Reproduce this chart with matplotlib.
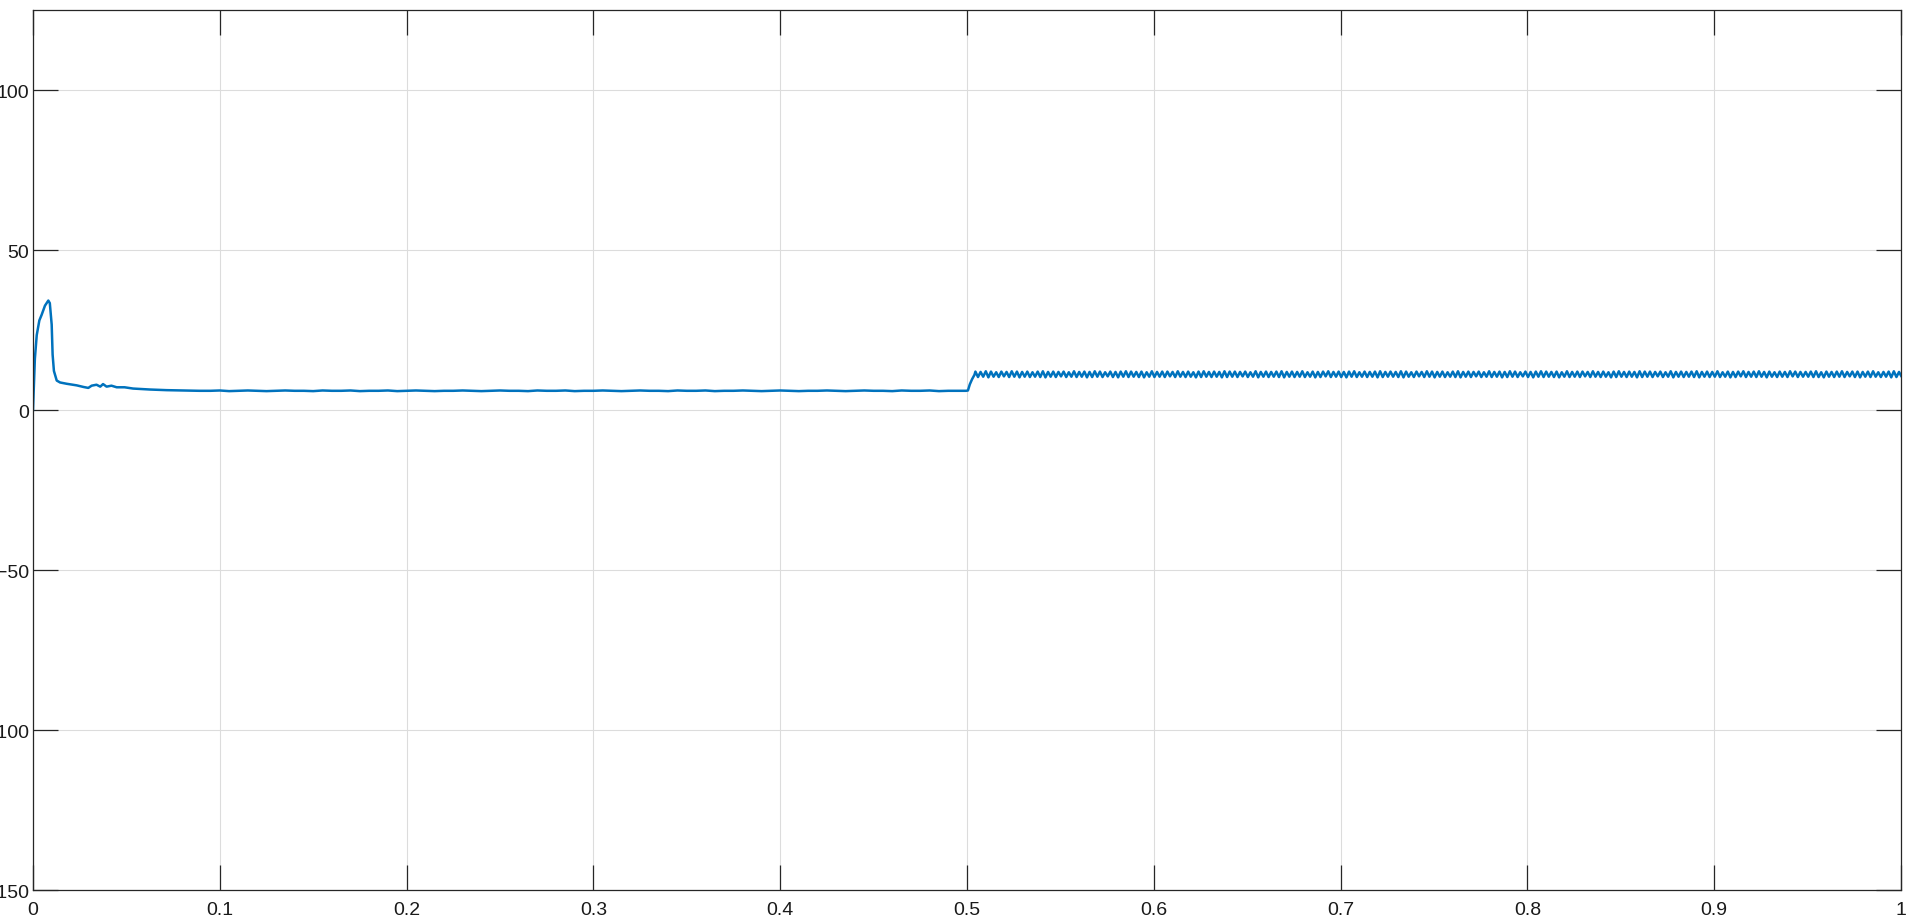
import numpy as np
import matplotlib
matplotlib.use('Agg')
import matplotlib.pyplot as plt

# start-up transient
t_start = [0, 0.001, 0.002, 0.0034, 0.0046, 0.0064, 0.0082, 0.009, 0.010, 0.0105,
           0.0112, 0.0127, 0.0145, 0.018, 0.0234, 0.027, 0.0296, 0.0314, 0.034, 0.036,
           0.0375, 0.0394, 0.042, 0.0448, 0.049, 0.0536, 0.0626, 0.0716, 0.080, 0.089]
y_start = [0, 16, 23.4, 28, 29.7, 32.6, 34.2, 33.4, 26.7, 17.3,
           12.2, 9.2, 8.6, 8.2, 7.7, 7.2, 6.9, 7.6, 7.9, 7.3,
           8.1, 7.3, 7.6, 7.1, 7.1, 6.7, 6.4, 6.2, 6.1, 6.0]

# steady part 0.095 .. 0.495, every 5 ms
y_steady = [6.0, 6.1, 5.9, 6.0, 6.1, 6.0, 5.9, 6.0, 6.1, 6.0,
            6.0, 5.9, 6.1, 6.0, 6.0, 6.1, 5.9, 6.0, 6.0, 6.1,
            5.9, 6.0, 6.1, 6.0, 5.9, 6.0, 6.0, 6.1, 6.0, 5.9,
            6.0, 6.1, 6.0, 6.0, 5.9, 6.1, 6.0, 6.0, 6.1, 5.9,
            6.0, 6.0, 6.1, 6.0, 5.9, 6.0, 6.1, 6.0, 6.0, 5.9,
            6.1, 6.0, 6.0, 6.1, 5.9, 6.0, 6.0, 6.1, 6.0, 5.9,
            6.0, 6.1, 6.0, 5.9, 6.0, 6.0, 6.1, 6.0, 5.9, 6.0,
            6.1, 6.0, 6.0, 5.9, 6.1, 6.0, 6.0, 6.1, 5.9, 6.0, 6.0]

# load step at 0.5 s
t_step = [0.4995, 0.5005, 0.5015, 0.5027, 0.504]
y_step = [6.0, 6.1, 8.0, 9.6, 11.0]

# ripple after the step: alternating peaks / troughs, ~360 Hz
rip = [12.0, 10.3, 11.9, 10.4, 12.1, 10.2, 12.0, 10.4, 11.8, 10.3, 12.0, 10.5, 11.9, 10.3, 12.1, 10.4, 12.0, 10.2, 11.9, 10.4,
       12.0, 10.3, 11.8, 10.4, 12.0, 10.3, 12.1, 10.2, 11.9, 10.4, 12.0, 10.3, 11.9, 10.5, 12.0, 10.3, 11.8, 10.4, 12.1, 10.3,
       11.9, 10.4, 12.0, 10.2, 11.9, 10.3, 12.1, 10.4, 12.0, 10.3, 11.8, 10.5, 12.0, 10.3, 11.9, 10.2, 12.0, 10.4, 12.1, 10.3,
       12.0, 10.4, 11.9, 10.3, 12.0, 10.2, 11.8, 10.4, 12.1, 10.3, 11.9, 10.4, 12.0, 10.3, 12.0, 10.5, 11.9, 10.3, 12.1, 10.4,
       11.9, 10.3, 12.0, 10.4, 11.8, 10.2, 12.0, 10.3, 12.1, 10.4, 11.9, 10.3, 12.0, 10.4, 11.9, 10.2, 12.1, 10.3, 12.0, 10.4,
       12.0, 10.3, 11.9, 10.5, 12.0, 10.3, 11.8, 10.4, 12.1, 10.2, 11.9, 10.4, 12.0, 10.3, 11.9, 10.4, 12.0, 10.3, 12.1, 10.2,
       11.9, 10.4, 12.0, 10.3, 11.9, 10.4, 12.1, 10.3, 11.8, 10.4, 12.0, 10.2, 11.9, 10.3, 12.0, 10.5, 12.1, 10.3, 11.9, 10.4,
       12.0, 10.3, 11.9, 10.2, 12.0, 10.4, 12.1, 10.3, 11.8, 10.4, 12.0, 10.3, 11.9, 10.4, 12.0, 10.2, 12.1, 10.3, 11.9, 10.4,
       12.0, 10.4, 11.9, 10.3, 12.1, 10.2, 12.0, 10.4, 11.8, 10.3, 12.0, 10.5, 11.9, 10.3, 12.1, 10.4, 12.0, 10.2, 11.9, 10.4,
       12.0, 10.3, 11.8, 10.4, 12.0, 10.3, 12.1, 10.2, 11.9, 10.4, 12.0, 10.3, 11.9, 10.5, 12.0, 10.3, 11.8, 10.4, 12.1, 10.3,
       11.9, 10.4, 12.0, 10.2, 11.9, 10.3, 12.1, 10.4, 12.0, 10.3, 11.8, 10.5, 12.0, 10.3, 11.9, 10.2, 12.0, 10.4, 12.1, 10.3,
       12.0, 10.4, 11.9, 10.3, 12.0, 10.2, 11.8, 10.4, 12.1, 10.3, 11.9, 10.4, 12.0, 10.3, 12.0, 10.5, 11.9, 10.3, 12.1, 10.4,
       11.9, 10.3, 12.0, 10.4, 11.8, 10.2, 12.0, 10.3, 12.1, 10.4, 11.9, 10.3, 12.0, 10.4, 11.9, 10.2, 12.1, 10.3, 12.0, 10.4,
       12.0, 10.3, 11.9, 10.5, 12.0, 10.3, 11.8, 10.4, 12.1, 10.2, 11.9, 10.4, 12.0, 10.3, 11.9, 10.4, 12.0, 10.3, 12.1, 10.2,
       11.9, 10.4, 12.0, 10.3, 11.9, 10.4, 12.1, 10.3, 11.8, 10.4, 12.0, 10.2, 11.9, 10.3, 12.0, 10.5, 12.1, 10.3, 11.9, 10.4,
       12.0, 10.3, 12.1, 10.4, 11.9, 10.2, 12.0, 10.4, 11.8, 10.3, 12.0, 10.4, 11.9, 10.3, 12.1, 10.5, 12.0, 10.3, 11.9, 10.4,
       11.9, 10.4, 12.0, 10.3, 12.1, 10.3, 11.8, 10.2, 12.0, 10.4, 11.9, 10.3, 12.0, 10.4, 12.1, 10.3, 11.9, 10.5, 12.0, 10.3,
       12.0, 10.2, 11.9, 10.4, 12.0, 10.3, 12.1, 10.4, 11.8, 10.3, 11.9, 10.4, 12.0, 10.2, 12.1, 10.3, 11.9, 10.4, 12.0, 10.3]

x_ticks = [0, 0.1, 0.2, 0.3, 0.4, 0.5, 0.6, 0.7, 0.8, 0.9, 1]
y_ticks = [-150, -100, -50, 0, 50, 100]

t_steady = 0.095 + 0.005 * np.arange(len(y_steady))
t_rip = 0.5045 + np.arange(len(rip)) / 720.0

t = np.concatenate([t_start, t_steady, t_step, t_rip])
y = np.concatenate([y_start, y_steady, y_step, rip])

plt.rcParams['font.family'] = ['Liberation Sans', 'DejaVu Sans']
fig = plt.figure(figsize=(19.2, 9.2), dpi=100)
ax = fig.add_axes([33 / 1920, 29 / 920, 1868 / 1920, 880 / 920])
ax.plot(t, y, color='#0072BD', linewidth=1.8)

ax.set_xlim(0, 1)
ax.set_ylim(-150, 125)
ax.set_xticks(x_ticks)
ax.set_xticklabels(['0', '0.1', '0.2', '0.3', '0.4', '0.5', '0.6', '0.7', '0.8', '0.9', '1'])
ax.set_yticks(y_ticks)
ax.grid(True, color='#DCDCDC', linewidth=0.8)
ax.tick_params(direction='in', length=18, width=0.9, color='#262626',
               top=True, right=True, labelsize=14, labelcolor='#1a1a1a')
ax.tick_params(axis='x', pad=8)
ax.tick_params(axis='y', pad=3)
for s in ax.spines.values():
    s.set_color('#262626')
    s.set_linewidth(0.9)

fig.savefig('out.png', dpi=100)
